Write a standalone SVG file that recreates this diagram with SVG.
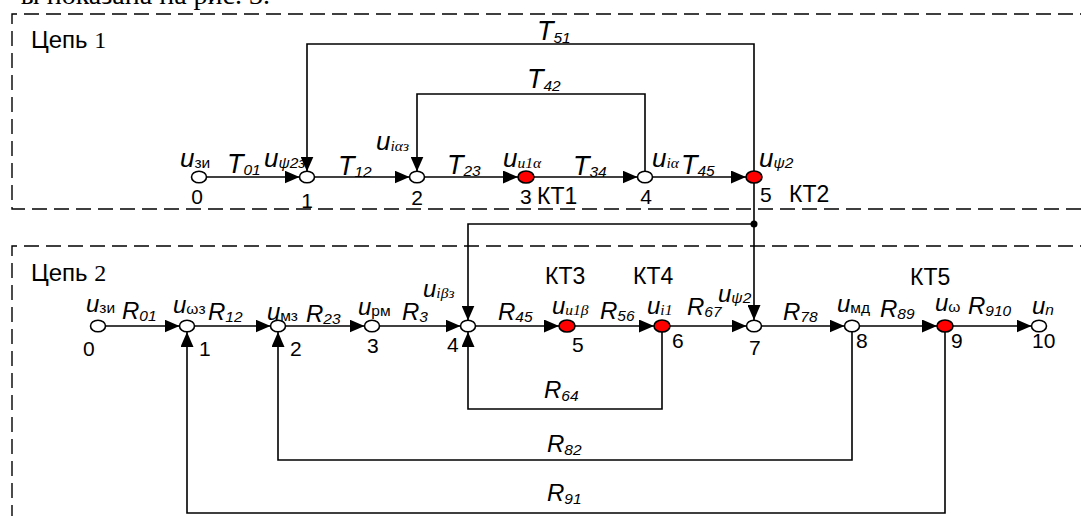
<svg xmlns="http://www.w3.org/2000/svg" width="1081" height="516" viewBox="0 0 1081 516">
<style>
text{font-family:"Liberation Sans",Arial,sans-serif;fill:#000}
.cap{font-family:"Liberation Serif","Times New Roman",serif;font-size:28px}
.frame{fill:none;stroke:#000;stroke-width:1.4;stroke-dasharray:15 7}
.ln{fill:none;stroke:#000;stroke-width:1.6}
.nw{fill:#fff;stroke:#000;stroke-width:1.6}
.nr{fill:#f00;stroke:#000;stroke-width:1.6}
.t1{font-style:italic;font-size:27px}
.u1{font-style:italic;font-size:26px}
.t2{font-style:italic;font-size:24px}
.u2{font-style:italic;font-size:24px}
.s{font-size:15.5px}
.up{font-style:normal}
.sr{font-family:"Liberation Serif","Times New Roman",serif;font-style:italic}
.num{font-size:21px}
.kt{font-size:23px}
.ttl{font-size:24px}
.ser{font-family:"Liberation Serif","Times New Roman",serif}
</style>
<defs>
<marker id="ar" markerUnits="userSpaceOnUse" markerWidth="15" markerHeight="13" refX="15" refY="6.5" orient="auto">
<path d="M0,0 L15,6.5 L0,13 z" fill="#000"/>
</marker>
</defs>

<text class="cap" x="270" y="4" text-anchor="end">ы показана на рис. 3.</text>

<g id="frames">
<path class="frame" d="M1095,14 H12 V209 H1095"/>
<path class="frame" d="M1095,246 H12 V530"/>
<text class="ttl" x="31" y="48">Цепь <tspan class="ser">1</tspan></text>
<text class="ttl" x="31" y="281">Цепь <tspan class="ser">2</tspan></text>
</g>

<g id="connectors">
<line class="ln" x1="206.5" y1="177" x2="299.5" y2="177" marker-end="url(#ar)"/>
<line class="ln" x1="314.5" y1="177" x2="409.5" y2="177" marker-end="url(#ar)"/>
<line class="ln" x1="424.5" y1="177" x2="518" y2="177" marker-end="url(#ar)"/>
<line class="ln" x1="534" y1="177" x2="637.5" y2="177" marker-end="url(#ar)"/>
<line class="ln" x1="652.5" y1="177" x2="746" y2="177" marker-end="url(#ar)"/>
<path class="ln" d="M754,171 V44 H307 V171.5" marker-end="url(#ar)"/>
<path class="ln" d="M645,171.5 V94 H417 V171.5" marker-end="url(#ar)"/>
<path class="ln" d="M754,183 V320" marker-end="url(#ar)"/>
<path class="ln" d="M754,224 H468 V320.5" marker-end="url(#ar)"/>
<circle cx="754" cy="224" r="3.5" fill="#000"/>
<line class="ln" x1="105.5" y1="326" x2="179.5" y2="326" marker-end="url(#ar)"/>
<line class="ln" x1="194.5" y1="326" x2="270.5" y2="326" marker-end="url(#ar)"/>
<line class="ln" x1="285.5" y1="326" x2="364.5" y2="326" marker-end="url(#ar)"/>
<line class="ln" x1="379.5" y1="326" x2="460.5" y2="326" marker-end="url(#ar)"/>
<line class="ln" x1="475.5" y1="326" x2="559" y2="326" marker-end="url(#ar)"/>
<line class="ln" x1="575" y1="326" x2="654" y2="326" marker-end="url(#ar)"/>
<line class="ln" x1="670" y1="326" x2="746.5" y2="326" marker-end="url(#ar)"/>
<line class="ln" x1="761.5" y1="326" x2="844.5" y2="326" marker-end="url(#ar)"/>
<line class="ln" x1="859.5" y1="326" x2="937" y2="326" marker-end="url(#ar)"/>
<line class="ln" x1="953" y1="326" x2="1031.5" y2="326" marker-end="url(#ar)"/>
<path class="ln" d="M662,332 V409 H468 V332" marker-end="url(#ar)"/>
<path class="ln" d="M852,332 V460 H278 V332" marker-end="url(#ar)"/>
<path class="ln" d="M945,332 V513 H187 V332" marker-end="url(#ar)"/>
</g>

<g id="edge-labels">
<text class="t1" x="227" y="173">T<tspan class="s" dy="2">01</tspan></text>
<text class="t1" x="338" y="175">T<tspan class="s" dy="2">12</tspan></text>
<text class="t1" x="447" y="174">T<tspan class="s" dy="2">23</tspan></text>
<text class="t1" x="573" y="175">T<tspan class="s" dy="2">34</tspan></text>
<text class="t1" x="681" y="174">T<tspan class="s" dy="2">45</tspan></text>
<text class="t1" x="527" y="88">T<tspan class="s" dy="3">42</tspan></text>
<text class="t1" x="537" y="40">T<tspan class="s" dy="3">51</tspan></text>
<text class="t2" x="122" y="319">R<tspan class="s" dy="2">01</tspan></text>
<text class="t2" x="208" y="320">R<tspan class="s" dy="2">12</tspan></text>
<text class="t2" x="306" y="322">R<tspan class="s" dy="2">23</tspan></text>
<text class="t2" x="402" y="320">R<tspan class="s" dy="2">3</tspan></text>
<text class="t2" x="498" y="320">R<tspan class="s" dy="2">45</tspan></text>
<text class="t2" x="600" y="319">R<tspan class="s" dy="2">56</tspan></text>
<text class="t2" x="687" y="315">R<tspan class="s" dy="2">67</tspan></text>
<text class="t2" x="783" y="320">R<tspan class="s" dy="2">78</tspan></text>
<text class="t2" x="880" y="317">R<tspan class="s" dy="2">89</tspan></text>
<text class="t2" x="968" y="314">R<tspan class="s" dy="2">910</tspan></text>
<text class="t2" x="544" y="398">R<tspan class="s" dy="3">64</tspan></text>
<text class="t2" x="547" y="452">R<tspan class="s" dy="3">82</tspan></text>
<text class="t2" x="547" y="501">R<tspan class="s" dy="3">91</tspan></text>
</g>

<g id="c1n0">
<ellipse class="nw" cx="199" cy="177" rx="7.5" ry="5.8"/>
<text class="u1" x="180" y="167">u<tspan class="s up" dy="1">зи</tspan></text>
<text class="num" x="197" y="204" text-anchor="middle">0</text>
</g>
<g id="c1n1">
<ellipse class="nw" cx="307" cy="177" rx="7.5" ry="5.8"/>
<text class="u1" x="264" y="167">u<tspan class="s" dy="1">ψ2з</tspan></text>
<text class="num" x="307" y="208" text-anchor="middle">1</text>
</g>
<g id="c1n2">
<ellipse class="nw" cx="417" cy="177" rx="7.5" ry="5.8"/>
<text class="u1" x="376" y="150">u<tspan class="s sr" dy="1">iαз</tspan></text>
<text class="num" x="417" y="205" text-anchor="middle">2</text>
</g>
<g id="c1n3">
<ellipse class="nr" cx="526" cy="177" rx="8" ry="6"/>
<text class="u1" x="503" y="167">u<tspan class="s sr" dy="1">u1α</tspan></text>
<text class="num" x="520" y="204">3</text>
<text class="kt" x="537" y="204">КТ1</text>
</g>
<g id="c1n4">
<ellipse class="nw" cx="645" cy="177" rx="7.5" ry="5.8"/>
<text class="u1" x="652" y="167">u<tspan class="s sr" dy="1">iα</tspan></text>
<text class="num" x="646" y="204" text-anchor="middle">4</text>
</g>
<g id="c1n5">
<ellipse class="nr" cx="754" cy="177" rx="8" ry="6"/>
<text class="u1" x="759" y="167">u<tspan class="s" dy="1">ψ2</tspan></text>
<text class="num" x="760" y="202">5</text>
<text class="kt" x="789" y="202">КТ2</text>
</g>

<g id="c2n0">
<ellipse class="nw" cx="98" cy="326" rx="7.5" ry="5.8"/>
<text class="u2" x="86" y="312">u<tspan class="s up" dy="1">зи</tspan></text>
<text class="num" x="83" y="356">0</text>
</g>
<g id="c2n1">
<ellipse class="nw" cx="187" cy="326" rx="7.5" ry="5.8"/>
<text class="u2" x="173" y="313">u<tspan class="s up" dy="1">ωз</tspan></text>
<text class="num" x="199" y="356">1</text>
</g>
<g id="c2n2">
<ellipse class="nw" cx="278" cy="326" rx="7.5" ry="5.8"/>
<text class="u2" x="267" y="320">u<tspan class="s up" dy="1">мз</tspan></text>
<text class="num" x="290" y="356">2</text>
</g>
<g id="c2n3">
<ellipse class="nw" cx="372" cy="326" rx="7.5" ry="5.8"/>
<text class="u2" x="358" y="315">u<tspan class="s up" dy="1">рм</tspan></text>
<text class="num" x="367" y="353">3</text>
</g>
<g id="c2n4">
<ellipse class="nw" cx="468" cy="326" rx="7.5" ry="5.8"/>
<text class="u2" x="423" y="297">u<tspan class="s sr" dy="1">iβз</tspan></text>
<text class="num" x="447" y="352">4</text>
</g>
<g id="c2n5">
<ellipse class="nr" cx="567" cy="326" rx="8" ry="6"/>
<text class="u2" x="552" y="314">u<tspan class="s sr" dy="1">u1β</tspan></text>
<text class="num" x="572" y="352">5</text>
<text class="kt" x="545" y="284">КТ3</text>
</g>
<g id="c2n6">
<ellipse class="nr" cx="662" cy="326" rx="8" ry="6"/>
<text class="u2" x="647" y="314">u<tspan class="s sr" dy="1">i1</tspan></text>
<text class="num" x="672" y="348">6</text>
<text class="kt" x="633" y="284">КТ4</text>
</g>
<g id="c2n7">
<ellipse class="nw" cx="754" cy="326" rx="7.5" ry="5.8"/>
<text class="u2" x="718" y="302">u<tspan class="s" dy="1">ψ2</tspan></text>
<text class="num" x="749" y="355">7</text>
</g>
<g id="c2n8">
<ellipse class="nw" cx="852" cy="326" rx="7.5" ry="5.8"/>
<text class="u2" x="837" y="312">u<tspan class="s up" dy="1">мд</tspan></text>
<text class="num" x="856" y="348">8</text>
</g>
<g id="c2n9">
<ellipse class="nr" cx="945" cy="326" rx="8" ry="6"/>
<text class="u2" x="935" y="311">u<tspan class="s up" dy="1">ω</tspan></text>
<text class="num" x="951" y="348">9</text>
<text class="kt" x="910" y="285">КТ5</text>
</g>
<g id="c2n10">
<ellipse class="nw" cx="1039" cy="326" rx="7.5" ry="5.8"/>
<text class="u2" x="1032" y="314">u<tspan class="s" dy="1">n</tspan></text>
<text class="num" x="1032" y="348">10</text>
</g>
</svg>
